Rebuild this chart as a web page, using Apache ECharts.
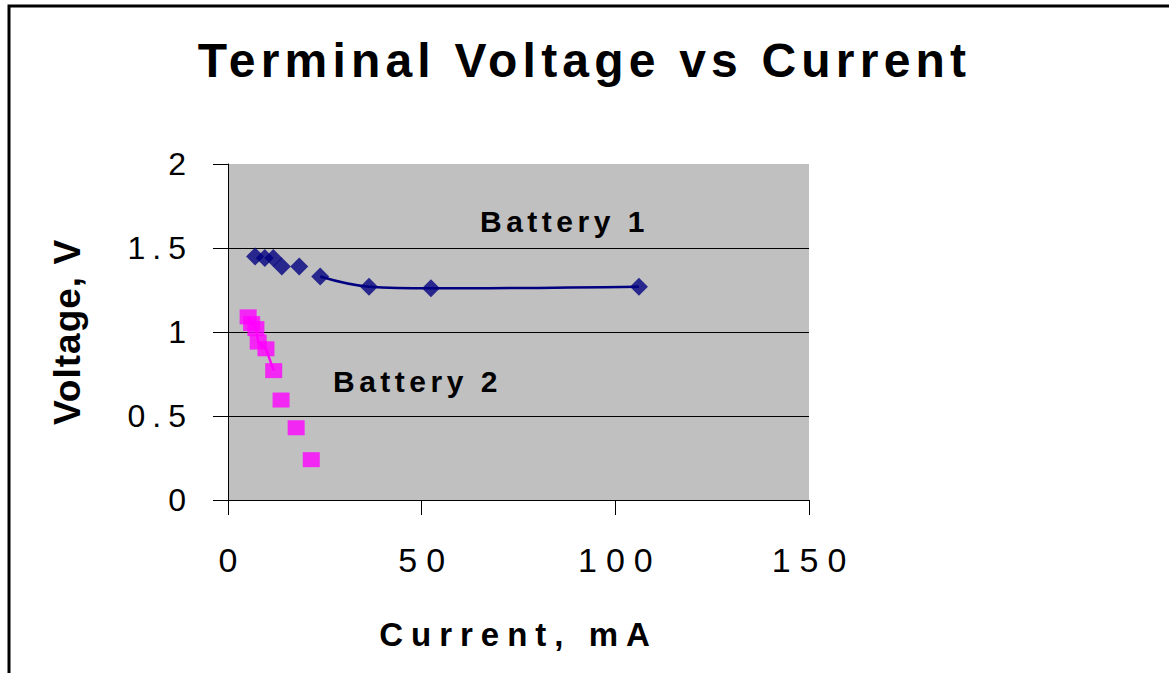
<!DOCTYPE html>
<html>
<head>
<meta charset="utf-8">
<title>Terminal Voltage vs Current</title>
<script src="https://cdn.jsdelivr.net/npm/echarts@6/dist/echarts.min.js"></script>
<style>
  html, body { margin: 0; padding: 0; background: #ffffff; }
  #chart { width: 1169px; height: 673px; }
  /* old spreadsheet charts space their letters out */
  #chart text[style*="48px"] { letter-spacing: 5.2px; }
  #chart text[style*="33px"] { letter-spacing: 8px; }
  #chart text[style*="37px"] { letter-spacing: 1px; }
  #chart text[style*="32px"] { letter-spacing: 7px; }
  #chart text[style*="34px"] { letter-spacing: 9px; }
  #chart text[style*="30px"] { letter-spacing: 4.5px; }
</style>
</head>
<body>
<div id="chart"></div>
<script>
// Battery 1: current (mA) and terminal voltage (V)
const battery1Current = [7.0, 9.5, 11.7, 13.9, 18.4, 23.8, 36.4, 52.4, 106.1];
const battery1Voltage = [1.45, 1.44, 1.44, 1.39, 1.39, 1.33, 1.27, 1.26, 1.27];
// Battery 2
const battery2Current = [5.2, 6.1, 7.2, 7.8, 9.8, 11.8, 13.7, 17.6, 21.5];
const battery2Voltage = [1.09, 1.05, 1.02, 0.94, 0.90, 0.77, 0.595, 0.43, 0.24];

const xTicks = [0, 50, 100, 150];
const yTicks = [0, 0.5, 1, 1.5, 2];

const FONT = "Liberation Sans";

function pairs(xs, ys) {
  return xs.map((x, i) => [x, ys[i]]);
}

const b1 = pairs(battery1Current, battery1Voltage);
const b2 = pairs(battery2Current, battery2Voltage);

const myChart = echarts.init(document.getElementById("chart"), null, { renderer: "svg" });

const options = {
  animation: false,
  backgroundColor: "#ffffff",
  textStyle: { fontFamily: FONT },
  title: {
    text: "Terminal Voltage vs Current",
    left: "center",
    top: 36,
    padding: [0, 0, 0, 10],
    textStyle: { fontFamily: FONT, fontSize: 48, fontWeight: "bold", color: "#000" },
  },
  grid: {
    left: 228,
    right: 360,
    top: 164,
    bottom: 173,
    show: true,
    backgroundColor: "#c0c0c0",
    borderWidth: 0,
  },
  xAxis: {
    type: "value",
    min: xTicks[0],
    max: xTicks[xTicks.length - 1],
    interval: 50,
    name: "Current, mA",
    nameLocation: "middle",
    nameGap: 118,
    nameTextStyle: { fontFamily: FONT, fontSize: 33, fontWeight: "bold", color: "#000" },
    axisLine: { lineStyle: { color: "#000", width: 1 } },
    axisTick: { show: true, inside: false, length: 15, lineStyle: { color: "#000" } },
    axisLabel: { margin: 43, fontSize: 34, color: "#000", fontFamily: FONT, padding: [0, 0, 0, 9] },
    splitLine: { show: false },
  },
  yAxis: {
    type: "value",
    min: yTicks[0],
    max: yTicks[yTicks.length - 1],
    interval: 0.5,
    name: "Voltage, V",
    nameLocation: "middle",
    nameGap: 142,
    nameTextStyle: { fontFamily: FONT, fontSize: 37, fontWeight: "bold", color: "#000" },
    axisLine: { show: true, lineStyle: { color: "#000", width: 1 } },
    axisTick: { show: true, inside: false, length: 15, lineStyle: { color: "#000" } },
    axisLabel: { margin: 35, fontSize: 32, color: "#000", fontFamily: FONT },
    splitLine: {
      show: true,
      showMinLine: false,
      showMaxLine: false,
      lineStyle: { color: "#000", width: 1 },
    },
  },
  graphic: [
    {
      type: "rect",
      shape: { x: 9, y: 6, width: 1300, height: 800 },
      style: { fill: "none", stroke: "#000", lineWidth: 3 },
      silent: true,
    },
    {
      type: "text",
      x: 480,
      y: 221,
      style: {
        text: "Battery 1",
        fontFamily: FONT,
        fontSize: 30,
        fontWeight: "bold",
        fill: "#000",
        textAlign: "left",
        textVerticalAlign: "middle",
      },
    },
    {
      type: "text",
      x: 333,
      y: 381,
      style: {
        text: "Battery 2",
        fontFamily: FONT,
        fontSize: 30,
        fontWeight: "bold",
        fill: "#000",
        textAlign: "left",
        textVerticalAlign: "middle",
      },
    },
  ],
  series: [
    {
      // smoothed curve through the higher-current readings
      name: "Battery 1 curve",
      type: "line",
      data: b1.slice(5),
      smooth: 0.4,
      showSymbol: false,
      lineStyle: { color: "#000080", width: 2.5 },
      z: 2,
    },
    {
      name: "Battery 2 curve",
      type: "line",
      data: b2.slice(0, 6),
      showSymbol: false,
      lineStyle: { color: "#ff00ff", width: 2.5 },
      z: 2,
    },
    {
      name: "Battery 1",
      type: "scatter",
      data: b1,
      symbol: "diamond",
      symbolSize: 18,
      itemStyle: { color: "#000080" },
      z: 3,
    },
    {
      name: "Battery 2",
      type: "scatter",
      data: b2,
      symbol: "rect",
      symbolSize: [17, 15],
      itemStyle: { color: "#ff00ff" },
      z: 3,
    },
  ],
};

myChart.setOption(options);
</script>
</body>
</html>
